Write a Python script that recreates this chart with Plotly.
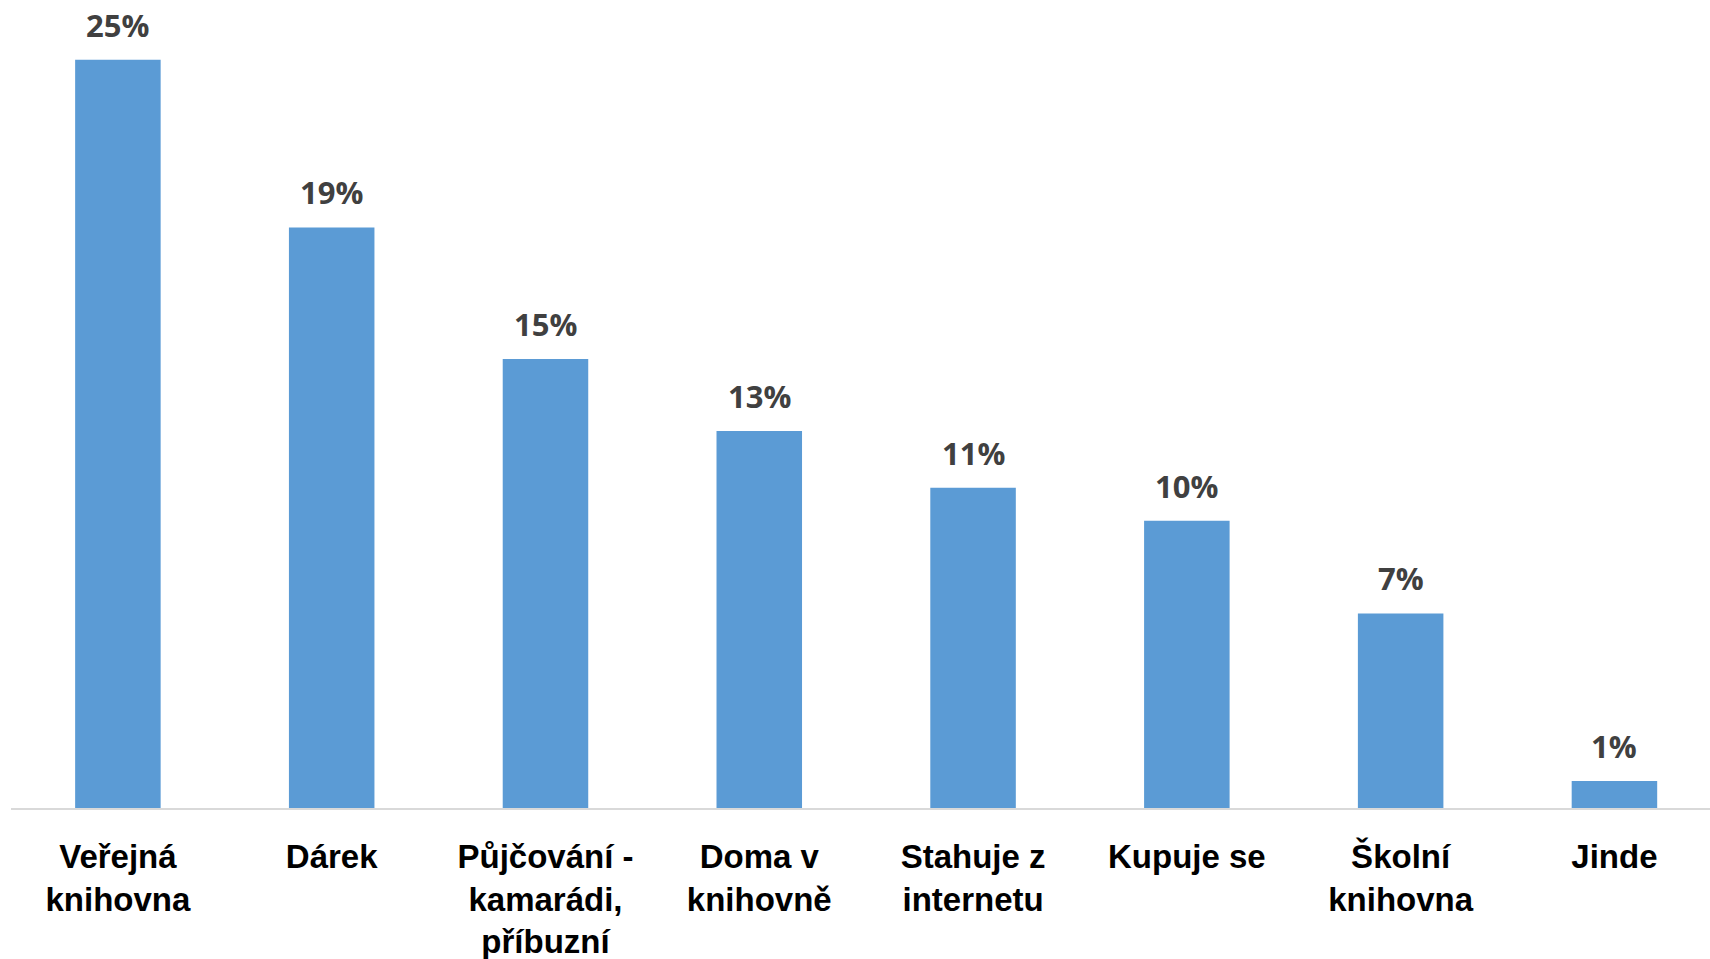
import plotly.graph_objects as go

categories = ["Veřejná<br>knihovna", "Dárek", "Půjčování -<br>kamarádi,<br>příbuzní",
              "Doma v<br>knihovně", "Stahuje z<br>internetu", "Kupuje se",
              "Školní<br>knihovna", "Jinde"]
values = [25.0, 19.4, 15.0, 12.6, 10.7, 9.6, 6.5, 0.9]
value_labels = ["25%", "19%", "15%", "13%", "11%", "10%", "7%", "1%"]

fig = go.Figure()
fig.add_trace(go.Bar(
    x=categories, y=values,
    marker=dict(color="#5B9BD5", line=dict(width=0)),
    hoverinfo="skip",
))

for c, v, t in zip(categories, values, value_labels):
    fig.add_annotation(
        x=c, y=v, text=t, showarrow=False, yanchor="bottom", yshift=12,
        font=dict(family="Open Sans, Lato, sans-serif", size=31, color="#404040", weight="bold"),
    )

fig.update_layout(
    width=1710, height=959,
    margin=dict(l=11, r=0, t=0, b=151),
    paper_bgcolor="white", plot_bgcolor="white",
    bargap=0.6,
    showlegend=False,
    xaxis=dict(
        range=[-0.5, 7.447],
        showline=True, linecolor="#D9D9D9", linewidth=2,
        showgrid=False, zeroline=False, ticks="",
        tickfont=dict(family="Liberation Sans Narrow, Arial Narrow, Liberation Sans, Arial, sans-serif",
                      size=33, color="#000000", weight="bold"),
        ticklabelstandoff=18,
    ),
    yaxis=dict(range=[0, 27.0], visible=False),
)

fig.write_html(
    "out.html",
    config={"displayModeBar": False},
    post_script="document.body.style.margin='0px';document.body.style.overflow='hidden';",
)
